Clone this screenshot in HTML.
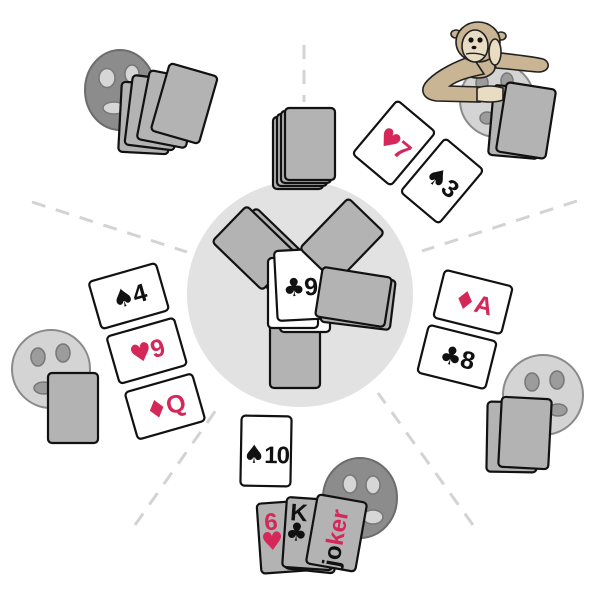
<!DOCTYPE html>
<html><head><meta charset="utf-8"><style>
html,body{margin:0;padding:0;background:#fff;}
svg{display:block}
.g{fill:#b3b3b3;stroke:#111;stroke-width:2.2}
.w{fill:#fff;stroke:#111;stroke-width:2.2}
text{font-family:"Liberation Sans","DejaVu Sans",sans-serif;font-weight:bold;fill:#111}
.s{font-family:"DejaVu Sans",sans-serif;font-size:25px}
.r{fill:#d4285a}
.d{stroke:#d3d3d3;stroke-width:3;stroke-dasharray:14 11;fill:none}
.fd{fill:#8c8c8c;stroke:#6c6c6c;stroke-width:2}
.fde{fill:#d6d6d6;stroke:#777;stroke-width:1.5}
.fl{fill:#d4d4d4;stroke:#8a8a8a;stroke-width:2}
.fle{fill:#9c9c9c;stroke:#777;stroke-width:1.5}
.tan{fill:#c9b593;stroke:#222;stroke-width:1.6}
.lt{fill:#e8dcc3;stroke:#222;stroke-width:1.6}
</style></head><body>
<svg width="600" height="600" viewBox="0 0 600 600">
<!-- dashed separators -->
<line class="d" x1="304" y1="45" x2="304" y2="102"/>
<line class="d" x1="32" y1="202" x2="187" y2="252"/>
<line class="d" x1="577" y1="201" x2="422" y2="251"/>
<line class="d" x1="135" y1="525" x2="221" y2="403"/>
<line class="d" x1="473" y1="525" x2="378" y2="393"/>

<!-- center table -->
<circle cx="300" cy="294" r="113" fill="#e2e2e2"/>

<!-- top-left player -->
<ellipse class="fd" cx="120" cy="90" rx="35" ry="40"/>
<ellipse class="fde" cx="107" cy="78" rx="8" ry="9.5"/>
<ellipse class="fde" cx="132" cy="74" rx="7" ry="9"/>
<ellipse class="fde" cx="114" cy="108" rx="11" ry="6"/>
<g transform="translate(145,118) rotate(3)"><rect class="g" x="-25" y="-35" width="50" height="70" rx="4"/></g>
<g transform="translate(153.5,112.7) rotate(7)"><rect class="g" x="-25" y="-35" width="50" height="70" rx="4"/></g>
<g transform="translate(167.8,109.2) rotate(11)"><rect class="g" x="-25" y="-35" width="50" height="70" rx="4"/></g>
<g transform="translate(184.3,103.5) rotate(16)"><rect class="g" x="-25" y="-35" width="50" height="70" rx="4"/></g>

<!-- top deck -->
<rect class="g" x="273" y="117" width="50" height="72" rx="4"/>
<rect class="g" x="277" y="114" width="50" height="72" rx="4"/>
<rect class="g" x="281" y="111" width="50" height="72" rx="4"/>
<rect class="g" x="285" y="108" width="50" height="72" rx="4"/>

<!-- top-right discards -->
<g transform="translate(394,143) rotate(40)"><rect class="w" x="-25" y="-35" width="50" height="70" rx="4"/><text class="r" x="0" y="9" font-size="25" text-anchor="middle" letter-spacing="-1"><tspan class="s r">♥</tspan>7</text></g>
<g transform="translate(442,181) rotate(40)"><rect class="w" x="-25" y="-35" width="50" height="70" rx="4"/><text x="0" y="9" font-size="25" text-anchor="middle" letter-spacing="-1"><tspan class="s">♠</tspan>3</text></g>

<!-- top-right player with monkey -->
<circle class="fl" cx="497" cy="100" r="37"/>
<ellipse class="fle" cx="482" cy="83" rx="6" ry="8"/>
<ellipse class="fle" cx="507" cy="81" rx="6" ry="8"/>
<ellipse class="fle" cx="487" cy="118" rx="7" ry="6"/>
<g transform="translate(516,122) rotate(5)"><rect class="g" x="-25" y="-35" width="50" height="70" rx="4"/></g>
<!-- monkey -->
<path class="tan" d="M492 52 C510 54,530 56,543 59 C551 62,550 72,538 72 C524 71,510 69,496 68 Z"/>
<ellipse class="tan" cx="478" cy="67" rx="17" ry="11"/>
<path class="tan" d="M472 56 C456 61,438 70,428 80 C419 89,422 99,436 101 L480 102 L480 87 L450 86 C458 80,470 77,484 74 Z"/>
<path class="lt" d="M477 88 C486 85,496 86,503 88 L503 100 C495 103,485 102,477 101 Z"/>
<ellipse class="tan" cx="456" cy="34" rx="5" ry="4"/>
<ellipse class="tan" cx="501" cy="36" rx="5" ry="4"/>
<ellipse class="tan" cx="478" cy="42" rx="22" ry="20"/>
<ellipse class="lt" cx="475" cy="46" rx="13" ry="16"/>
<circle cx="471" cy="40" r="2.6" fill="#111"/>
<circle cx="480" cy="40" r="2.6" fill="#111"/>
<ellipse cx="474" cy="47.5" rx="2.5" ry="1.8" fill="#111"/>
<path d="M466 54 Q476 52 486 56" fill="none" stroke="#222" stroke-width="1.4"/>
<ellipse class="lt" cx="495" cy="52" rx="6" ry="13"/>
<g transform="translate(526,120.5) rotate(9)"><rect class="g" x="-25" y="-35" width="50" height="70" rx="4"/></g>

<!-- center cards -->
<rect class="g" x="270" y="318" width="50" height="70" rx="4"/>
<g transform="translate(264,250) rotate(-46)"><rect class="g" x="-25" y="-35" width="50" height="70" rx="4"/></g>
<g transform="translate(254.5,248) rotate(-46)"><rect class="g" x="-25" y="-35" width="50" height="70" rx="4"/></g>
<rect class="w" x="280" y="262" width="50" height="70" rx="4"/>
<rect class="w" x="268" y="258" width="50" height="70" rx="4"/>
<g transform="translate(300.8,284.7) rotate(-3)"><rect class="w" x="-25" y="-35" width="50" height="70" rx="4"/><text x="-1" y="11" font-size="25" text-anchor="middle" letter-spacing="-1"><tspan class="s">♣</tspan>9</text></g>
<g transform="translate(342,240.5) rotate(44)"><rect class="g" x="-25" y="-35" width="50" height="70" rx="4"/></g>
<g transform="translate(358,301) rotate(7)"><rect class="g" x="-35" y="-25" width="70" height="50" rx="4"/></g>
<g transform="translate(353.5,297) rotate(9)"><rect class="g" x="-35" y="-25" width="70" height="50" rx="4"/></g>

<!-- left player -->
<circle class="fl" cx="51" cy="369" r="39"/>
<ellipse class="fle" cx="38" cy="357" rx="7" ry="9"/>
<ellipse class="fle" cx="63" cy="353" rx="7" ry="9"/>
<ellipse class="fle" cx="44" cy="388" rx="10" ry="6"/>
<rect class="g" x="48" y="373" width="50" height="70" rx="4"/>
<g transform="translate(128.75,296) rotate(-16)"><rect class="w" x="-35" y="-24.5" width="70" height="49" rx="4"/><text x="0" y="9" font-size="25" text-anchor="middle" letter-spacing="-1"><tspan class="s">♠</tspan>4</text></g>
<g transform="translate(146.75,350.75) rotate(-16)"><rect class="w" x="-35" y="-24.5" width="70" height="49" rx="4"/><text class="r" x="0" y="9" font-size="25" text-anchor="middle" letter-spacing="-1"><tspan class="s r">♥</tspan>9</text></g>
<g transform="translate(165,406.5) rotate(-16)"><rect class="w" x="-35" y="-24.5" width="70" height="49" rx="4"/><text class="r" x="0" y="9" font-size="25" text-anchor="middle" letter-spacing="-1"><tspan class="s r">♦</tspan>Q</text></g>

<!-- right player -->
<g transform="translate(473,302) rotate(14)"><rect class="w" x="-35" y="-24.5" width="70" height="49" rx="4"/><text class="r" x="0" y="9" font-size="25" text-anchor="middle" letter-spacing="-1"><tspan class="s r">♦</tspan>A</text></g>
<g transform="translate(457,357) rotate(14)"><rect class="w" x="-35" y="-24.5" width="70" height="49" rx="4"/><text x="0" y="9" font-size="25" text-anchor="middle" letter-spacing="-1"><tspan class="s">♣</tspan>8</text></g>
<circle class="fl" cx="543" cy="395" r="40"/>
<ellipse class="fle" cx="532" cy="382" rx="7" ry="9"/>
<ellipse class="fle" cx="557" cy="380" rx="7" ry="9"/>
<ellipse class="fle" cx="558" cy="410" rx="9" ry="6"/>
<g transform="translate(512,437) rotate(1)"><rect class="g" x="-25" y="-35" width="50" height="70" rx="4"/></g>
<g transform="translate(525,433) rotate(3)"><rect class="g" x="-25" y="-35" width="50" height="70" rx="4"/></g>

<!-- bottom player -->
<g transform="translate(266,451) rotate(1)"><rect class="w" x="-25" y="-35" width="50" height="70" rx="4"/><text x="0" y="12" font-size="24" text-anchor="middle" letter-spacing="-1"><tspan class="s" font-size="24">♠</tspan>10</text></g>
<ellipse class="fd" cx="360" cy="498" rx="37" ry="40"/>
<ellipse class="fde" cx="350" cy="484" rx="7" ry="9"/>
<ellipse class="fde" cx="373" cy="485" rx="7" ry="9"/>
<ellipse class="fde" cx="373" cy="517" rx="10" ry="7"/>
<g transform="translate(284,537) rotate(-4)"><rect class="g" x="-25" y="-35" width="50" height="70" rx="4"/><text class="r" x="-12" y="-8" font-size="24" text-anchor="middle">6</text><text class="r s" x="-12" y="12" font-size="23" text-anchor="middle">♥</text></g>
<g transform="translate(313,536) rotate(6)"><rect class="g" x="-25" y="-35" width="50" height="70" rx="4"/></g>
<g transform="translate(309.5,533.6) rotate(4)"><rect class="g" x="-25" y="-35" width="50" height="70" rx="4"/><text x="-12" y="-12" font-size="24" text-anchor="middle">K</text><text class="s" x="-13" y="8" font-size="23" text-anchor="middle">♣</text></g>
<g transform="translate(336.5,533) rotate(10)"><rect class="g" x="-25" y="-35" width="50" height="70" rx="4"/><text transform="translate(8,5) rotate(-90)" x="0" y="0" font-size="24" text-anchor="middle">jo<tspan class="r">ker</tspan></text></g>
</svg>
</body></html>
